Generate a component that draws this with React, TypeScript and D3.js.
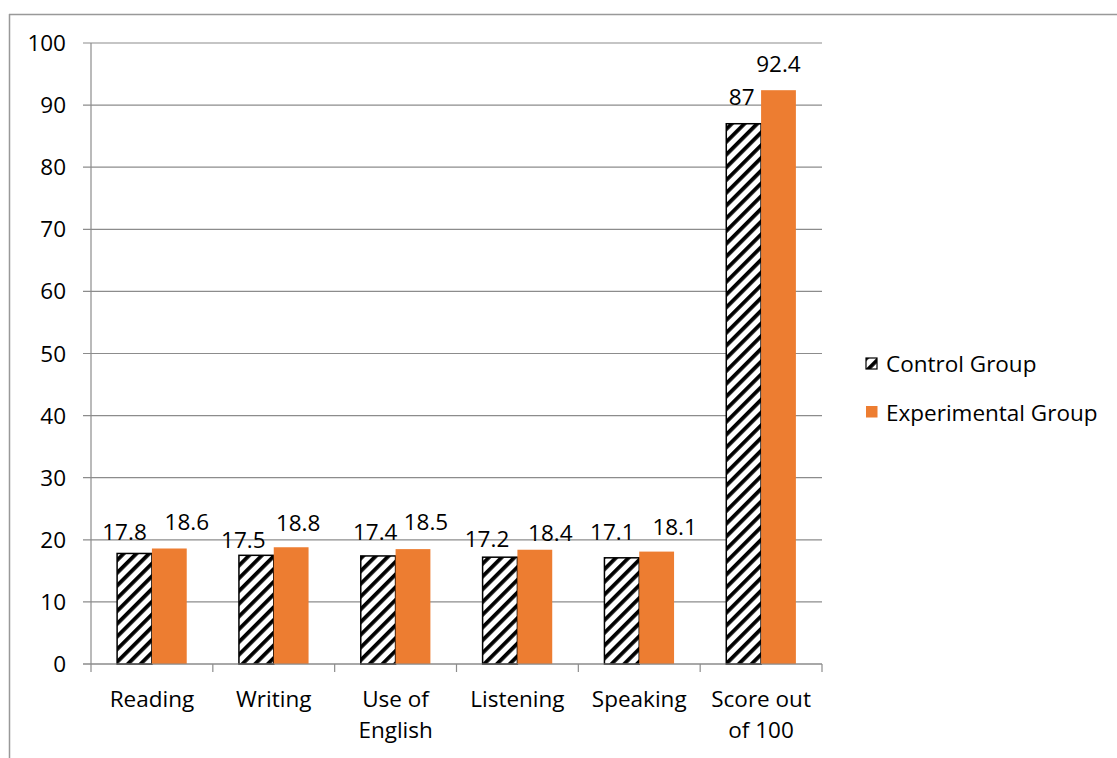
import React from "react";
import * as d3 from "d3";

const categories = ["Reading", "Writing", "Use of English", "Listening", "Speaking", "Score out of 100"];
const categoryLines = [["Reading"], ["Writing"], ["Use of", "English"], ["Listening"], ["Speaking"], ["Score out", "of 100"]];
const controlValues = [17.8, 17.5, 17.4, 17.2, 17.1, 87];
const experimentalValues = [18.6, 18.8, 18.5, 18.4, 18.1, 92.4];
const yTicks = [0, 10, 20, 30, 40, 50, 60, 70, 80, 90, 100];
const seriesNames = ["Control Group", "Experimental Group"];

// Hand-placed value label nudges (dx from bar centre, dy from bar top), per series
const labelNudges = [
  [[-10, -13.5], [-13, -7], [-3, -16], [-13, -10], [-9.5, -18], [-2, -19]],
  [[17.5, -18.5], [7, -16], [13, -19], [15.5, -9], [18, -17], [0, -18]],
];

const W = 1117;
const H = 758;
const plot = { left: 91, right: 822, top: 43, bottom: 664 };
const ORANGE = "#ED7D31";
const GRID = "#8c8c8c";
const FONT = "'Open Sans', Lato, sans-serif";
const FS = 22.5;

export default function App() {
  const x = d3.scaleBand<string>().domain(categories).range([plot.left, plot.right]).paddingInner(0).paddingOuter(0);
  const y = d3.scaleLinear().domain([0, 100]).range([plot.bottom, plot.top]);
  const bw = x.bandwidth();
  const barW = bw / 3.5;
  const series = [controlValues, experimentalValues];

  return (
    <svg width={W} height={H} style={{ position: "absolute", left: 0, top: 0, background: "#fff" }} fontFamily={FONT}>
      <defs>
        <pattern id="hatch" patternUnits="userSpaceOnUse" width={9} height={9} patternTransform="rotate(45)">
          <rect width={9} height={9} fill="#fff" />
          <rect x={0} y={0} width={3.8} height={9} fill="#000" />
        </pattern>
      </defs>
      <rect x={0} y={0} width={W} height={H} fill="#fff" />
      {/* outer chart frame */}
      <line x1={9} y1={14.5} x2={W} y2={14.5} stroke="#999" strokeWidth={1.5} />
      <line x1={9.5} y1={14} x2={9.5} y2={H} stroke="#999" strokeWidth={1.5} />

      {/* gridlines and y ticks */}
      {yTicks.map((t) => (
        <g key={t}>
          <line x1={plot.left - 8} x2={plot.right} y1={y(t)} y2={y(t)} stroke={GRID} strokeWidth={1.2} />
          <text x={66} y={y(t) + 8} textAnchor="end" fontSize={FS} fill="#000">
            {t}
          </text>
        </g>
      ))}
      {/* y axis */}
      <line x1={plot.left} x2={plot.left} y1={plot.top} y2={plot.bottom} stroke={GRID} strokeWidth={1.2} />
      {/* x tick marks */}
      {categories.map((c) => (
        <line key={c} x1={x(c)!} x2={x(c)!} y1={plot.bottom} y2={plot.bottom + 8} stroke={GRID} strokeWidth={1.2} />
      ))}
      <line x1={plot.right} x2={plot.right} y1={plot.bottom} y2={plot.bottom + 8} stroke={GRID} strokeWidth={1.2} />

      {/* bars */}
      {categories.map((c, i) => {
        const x0 = x(c)! + (bw - 2 * barW) / 2;
        return (
          <g key={c}>
            {series.map((vals, s) => {
              const v = vals[i];
              const bx = x0 + s * barW;
              const by = y(v);
              return s === 0 ? (
                <rect key={s} x={bx} y={by} width={barW} height={y(0) - by} fill="url(#hatch)" stroke="#000" strokeWidth={1.5} />
              ) : (
                <rect key={s} x={bx} y={by} width={barW} height={y(0) - by} fill={ORANGE} />
              );
            })}
          </g>
        );
      })}
      {/* axis baseline drawn over bars */}
      <line x1={plot.left - 8} x2={plot.right} y1={plot.bottom} y2={plot.bottom} stroke={GRID} strokeWidth={1.2} />

      {/* value labels */}
      {categories.map((c, i) => {
        const x0 = x(c)! + (bw - 2 * barW) / 2;
        return series.map((vals, s) => {
          const v = vals[i];
          const [dx, dy] = labelNudges[s][i];
          return (
            <text key={`${c}-${s}`} x={x0 + s * barW + barW / 2 + dx} y={y(v) + dy} textAnchor="middle" fontSize={FS} fill="#000">
              {v}
            </text>
          );
        });
      })}

      {/* category labels */}
      {categories.map((c, i) => (
        <text key={c} x={x(c)! + bw / 2} textAnchor="middle" fontSize={FS} fill="#000">
          {categoryLines[i].map((line, k) => (
            <tspan key={k} x={x(c)! + bw / 2} y={707 + k * 31}>
              {line}
            </tspan>
          ))}
        </text>
      ))}

      {/* legend */}
      <rect x={866} y={358} width={11} height={11} fill="url(#hatch)" stroke="#000" strokeWidth={1.2} />
      <text x={886} y={372} fontSize={FS} fill="#000">{seriesNames[0]}</text>
      <rect x={866} y={406} width={11.5} height={11.5} fill={ORANGE} />
      <text x={886} y={421} fontSize={FS} fill="#000">{seriesNames[1]}</text>
    </svg>
  );
}
